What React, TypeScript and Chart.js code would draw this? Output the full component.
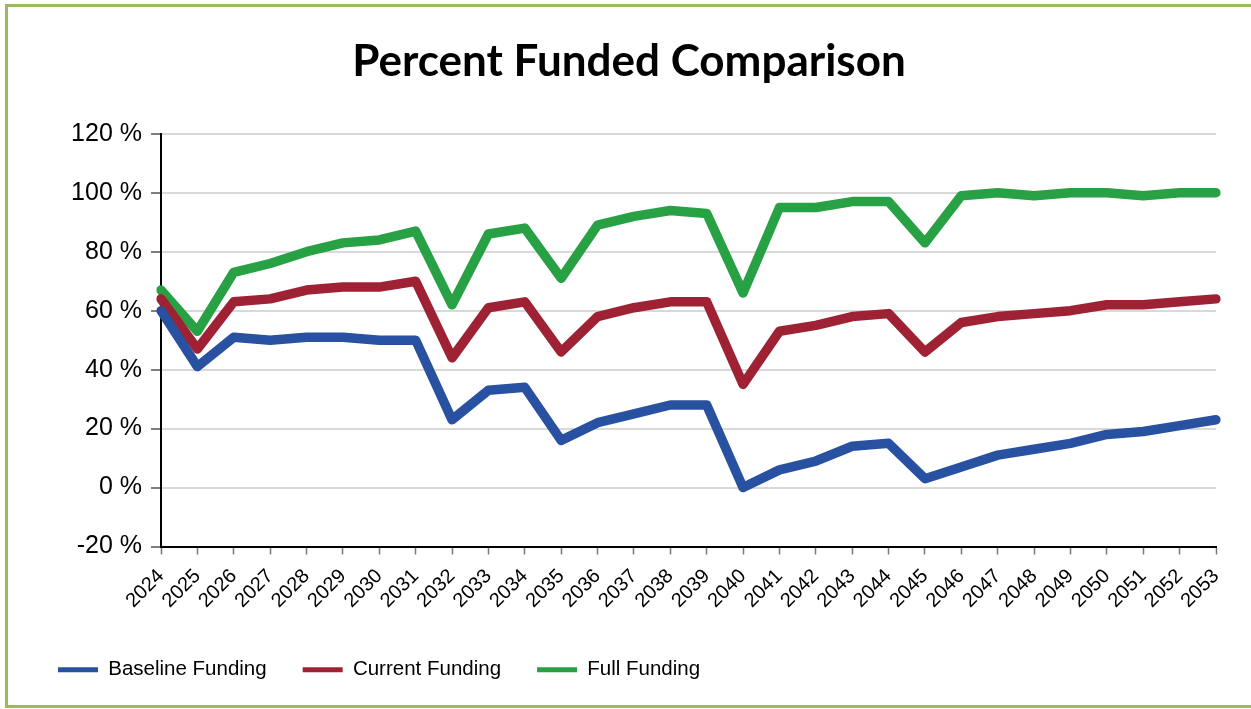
import React, { useEffect, useRef } from "react";
import { Chart, registerables } from "chart.js";

Chart.register(...registerables);

const years = [
  "2024", "2025", "2026", "2027", "2028", "2029", "2030", "2031", "2032", "2033",
  "2034", "2035", "2036", "2037", "2038", "2039", "2040", "2041", "2042", "2043",
  "2044", "2045", "2046", "2047", "2048", "2049", "2050", "2051", "2052", "2053",
];

const baselineFunding = [60, 41, 51, 50, 51, 51, 50, 50, 23, 33, 34, 16, 22, 25, 28, 28, 0, 6, 9, 14, 15, 3, 7, 11, 13, 15, 18, 19, 21, 23];
const currentFunding = [64, 47, 63, 64, 67, 68, 68, 70, 44, 61, 63, 46, 58, 61, 63, 63, 35, 53, 55, 58, 59, 46, 56, 58, 59, 60, 62, 62, 63, 64];
const fullFunding = [67, 53, 73, 76, 80, 83, 84, 87, 62, 86, 88, 71, 89, 92, 94, 93, 66, 95, 95, 97, 97, 83, 99, 100, 99, 100, 100, 99, 100, 100];

const yTicks = [-20, 0, 20, 40, 60, 80, 100, 120];

const seriesNames = ["Baseline Funding", "Current Funding", "Full Funding"];
const seriesColors = ["#2851A1", "#9E2233", "#28A044"];

const sansFamily = "'Liberation Sans', Arial, sans-serif";

export default function App() {
  const ref = useRef<HTMLCanvasElement | null>(null);

  useEffect(() => {
    if (!ref.current) return;
    const values = [baselineFunding, currentFunding, fullFunding];
    const chart = new Chart(ref.current, {
      type: "line",
      data: {
        labels: years,
        datasets: values.map((d, i) => ({
          label: seriesNames[i],
          data: d,
          borderColor: seriesColors[i],
          backgroundColor: seriesColors[i],
          borderWidth: 9.5,
          pointRadius: 0,
          tension: 0,
          borderCapStyle: "round" as const,
          borderJoinStyle: "round" as const,
          fill: false,
        })),
      },
      options: {
        responsive: false,
        animation: false,
        devicePixelRatio: 1,
        layout: { padding: { top: 14, left: 14, right: 15, bottom: 13 } },
        plugins: {
          title: {
            display: true,
            text: "Percent Funded Comparison",
            color: "#000",
            font: { family: "Lato, 'Open Sans', sans-serif", size: 44, weight: "bold" },
            padding: { top: 13, bottom: 46 },
          },
          legend: {
            display: true,
            position: "bottom",
            align: "start",
            labels: {
              color: "#000",
              font: { family: sansFamily, size: 20.5 },
              boxWidth: 40,
              boxHeight: 5,
              padding: 36,
              generateLabels: (c: any) =>
                Chart.defaults.plugins.legend.labels
                  .generateLabels(c)
                  .map((l: any) => ({ ...l, lineWidth: 0 })),
            },
          },
          tooltip: { enabled: false },
        },
        scales: {
          x: {
            type: "category",
            offset: false,
            afterFit: (scale: any) => {
              scale.height = 77;
              scale.paddingRight = 35;
            },
            grid: {
              drawOnChartArea: false,
              drawTicks: true,
              tickLength: 8,
              tickColor: "#777",
              tickWidth: 1.5,
            },
            border: { color: "#000", width: 2 },
            ticks: {
              autoSkip: false,
              maxRotation: 45,
              minRotation: 45,
              color: "#000",
              padding: 10,
              font: { family: sansFamily, size: 20 },
            },
          },
          y: {
            min: -20,
            max: 120,
            afterBuildTicks: (scale: any) => {
              scale.ticks = yTicks.map((v) => ({ value: v }));
            },
            afterFit: (scale: any) => {
              scale.width = 139;
            },
            grid: {
              color: "#d9d9d9",
              lineWidth: 2,
              drawTicks: true,
              tickLength: 10,
              tickColor: "#555",
              tickWidth: 1.5,
            },
            border: { color: "#000", width: 2 },
            ticks: {
              color: "#000",
              padding: 9,
              font: { family: sansFamily, size: 25 },
              callback: (v: any) => `${v} %`,
            },
          },
        },
      },
    } as any);
    return () => chart.destroy();
  }, []);

  return (
    <div style={{ position: "fixed", left: 0, top: 0, width: 1251, height: 709, background: "#fff", overflow: "hidden" }}>
      <div
        style={{
          position: "absolute",
          left: 5,
          top: 4,
          width: 1300,
          height: 704,
          boxSizing: "border-box",
          border: "3px solid #9BBB59",
        }}
      />
      <canvas
        ref={ref}
        width={1243}
        height={695}
        style={{ position: "absolute", left: 8, top: 8, width: 1243, height: 695 }}
      />
    </div>
  );
}
